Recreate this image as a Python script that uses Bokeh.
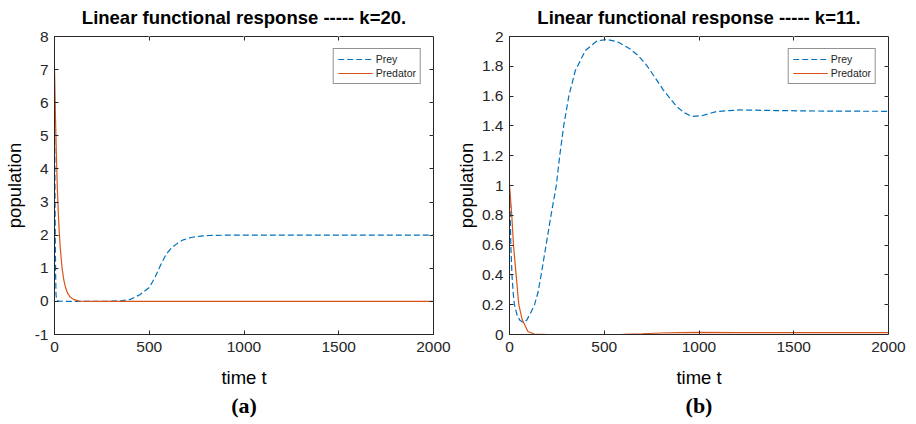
from bokeh.plotting import figure
from bokeh.models import (Range1d, LinearAxis, FixedTicker, Title, Legend, LegendItem,
                          CustomJSTickFormatter)
from bokeh.layouts import row
from bokeh.embed import file_html
from bokeh.resources import INLINE

# ---------------- data ----------------
# (a) k = 20
t_prey_a = [0, 2, 4, 6, 8, 12, 20, 100, 200, 300, 350, 400, 450, 500, 530, 560, 590,
            620, 650, 680, 720, 770, 820, 900, 1000, 1500, 2000]
prey_a = [6.0, 4.0, 2.0, 0.8, 0.2, 0.03, 0.005, 0.0, 0.0, 0.005, 0.02, 0.06, 0.2, 0.42,
          0.72, 1.1, 1.43, 1.63, 1.76, 1.86, 1.93, 1.97, 1.99, 2.0, 2.0, 2.0, 2.0]
t_pred_a = [0, 5, 10, 15, 20, 25, 30, 40, 50, 60, 70, 80, 100, 130, 200, 1000, 2000]
pred_a = [7.05, 5.6, 4.4, 3.4, 2.7, 2.1, 1.65, 1.0, 0.62, 0.38, 0.24, 0.15, 0.06, 0.01,
          0.0, 0.0, 0.0]

# (b) k = 11
t_prey_b = [0, 4, 7, 13, 20, 26, 40, 55, 70, 90, 110, 132, 150, 167, 193, 219, 247, 265,
            286, 313, 347, 400, 461, 514, 570, 637, 680, 725, 770, 812, 850, 883, 920,
            962, 1020, 1093, 1216, 1400, 1700, 2000]
prey_b = [0.95, 0.8, 0.6, 0.4, 0.27, 0.2, 0.13, 0.095, 0.083, 0.095, 0.14, 0.2, 0.28,
          0.4, 0.6, 0.8, 1.0, 1.2, 1.4, 1.6, 1.77, 1.905, 1.97, 1.98, 1.965, 1.916, 1.87,
          1.805, 1.72, 1.64, 1.58, 1.53, 1.49, 1.464, 1.47, 1.497, 1.507, 1.503, 1.499, 1.498]
t_pred_b = [0, 5, 12, 21, 35, 49, 67, 97, 130, 200, 600, 700, 800, 900, 1000, 1200, 1500, 2000]
pred_b = [1.0, 0.92, 0.8, 0.6, 0.4, 0.2, 0.1, 0.02, 0.003, 0.0, 0.001, 0.005, 0.01, 0.013,
          0.014, 0.013, 0.012, 0.012]

x_ticks = [0, 500, 1000, 1500, 2000]
y_ticks_a = [-1, 0, 1, 2, 3, 4, 5, 6, 7, 8]
y_ticks_b = [0, 0.2, 0.4, 0.6, 0.8, 1, 1.2, 1.4, 1.6, 1.8, 2]

titles = ["Linear functional response ----- k=20.", "Linear functional response ----- k=11."]
captions = ["(a)", "(b)"]

PREY_C = "#0072BD"
PRED_C = "#D95319"
AX_C = "#262626"
FONT = "Liberation Sans"


def make_panel(tp, prey, tq, pred, yr, yticks, title, caption, w, bl, br, ylab_gap):
    p = figure(width=w, height=424, output_backend="svg", toolbar_location=None,
               x_range=Range1d(0, 2000), y_range=Range1d(*yr),
               min_border_left=bl, min_border_right=br, min_border_top=32,
               min_border_bottom=90)
    p.title.text = title
    p.title.align = "center"
    p.title.text_font = FONT
    p.title.text_font_size = "18.5px"
    p.title.text_font_style = "bold"
    p.title.text_color = "black"
    p.title.standoff = 9
    p.title.offset = 0
    p.xgrid.visible = False
    p.ygrid.visible = False
    p.outline_line_color = AX_C
    p.background_fill_color = "white"
    p.border_fill_color = "white"

    r1 = p.line(tp, prey, line_color=PREY_C, line_width=1.2, line_dash="6 3")
    r2 = p.line(tq, pred, line_color=PRED_C, line_width=1.2)

    leg = Legend(items=[LegendItem(label="Prey", renderers=[r1]),
                        LegendItem(label="Predator", renderers=[r2])],
                 location="top_right", margin=12, padding=4, spacing=2,
                 label_height=12, glyph_height=12, glyph_width=35, label_standoff=3,
                 label_text_font=FONT, label_text_font_size="10.5px",
                 label_text_color=AX_C,
                 border_line_color=AX_C, border_line_width=0.8,
                 background_fill_color="white", background_fill_alpha=1.0)
    p.add_layout(leg, "center")

    # extra axes for the box ticks (labels tiny and white)
    right_ax = LinearAxis(major_label_text_color="white", major_label_standoff=0,
                          major_label_text_font_size="1px")
    top_ax = LinearAxis(major_label_text_color="white", major_label_standoff=0,
                        major_label_text_font_size="1px")
    p.add_layout(right_ax, "right")
    p.add_layout(top_ax, "above")

    bottom_ax = p.below[0]
    left_ax = p.left[0]
    bottom_ax.ticker = FixedTicker(ticks=x_ticks)
    top_ax.ticker = FixedTicker(ticks=x_ticks)
    left_ax.ticker = FixedTicker(ticks=yticks)
    right_ax.ticker = FixedTicker(ticks=yticks)
    for ax in (bottom_ax, top_ax, left_ax, right_ax):
        ax.major_tick_in = 4
        ax.major_tick_out = 0
        ax.minor_tick_line_color = None
        ax.axis_line_color = AX_C
        ax.major_tick_line_color = AX_C
    for ax in (bottom_ax, left_ax):
        ax.major_label_text_font = FONT
        ax.major_label_text_font_size = "15.5px"
        ax.major_label_text_color = AX_C
        ax.axis_label_text_font = FONT
        ax.axis_label_text_font_size = "18.5px"
        ax.axis_label_text_font_style = "normal"
        ax.axis_label_text_color = "black"

    left_ax.formatter = CustomJSTickFormatter(code="return String(Math.round(tick*10)/10)")
    bottom_ax.formatter = CustomJSTickFormatter(code="return String(tick)")
    bottom_ax.axis_label = "time t"
    left_ax.axis_label = "population"
    bottom_ax.major_label_standoff = 7
    left_ax.major_label_standoff = 6
    bottom_ax.axis_label_standoff = 12
    left_ax.axis_label_standoff = ylab_gap

    cap = Title(text=caption, align="center", text_font="Liberation Serif",
                text_font_size="22px", text_font_style="bold", text_color="black",
                standoff=0, offset=0)
    p.add_layout(cap, "below")
    return p


pa = make_panel(t_prey_a, prey_a, t_pred_a, pred_a, (-1, 8), y_ticks_a, titles[0],
                captions[0], 452, 53, 19, 7)
pb = make_panel(t_prey_b, prey_b, t_pred_b, pred_b, (0, 2), y_ticks_b, titles[1],
                captions[1], 464, 56, 28, 2)

layout = row(pa, pb)
open("out.html", "w").write(file_html(layout, INLINE))
